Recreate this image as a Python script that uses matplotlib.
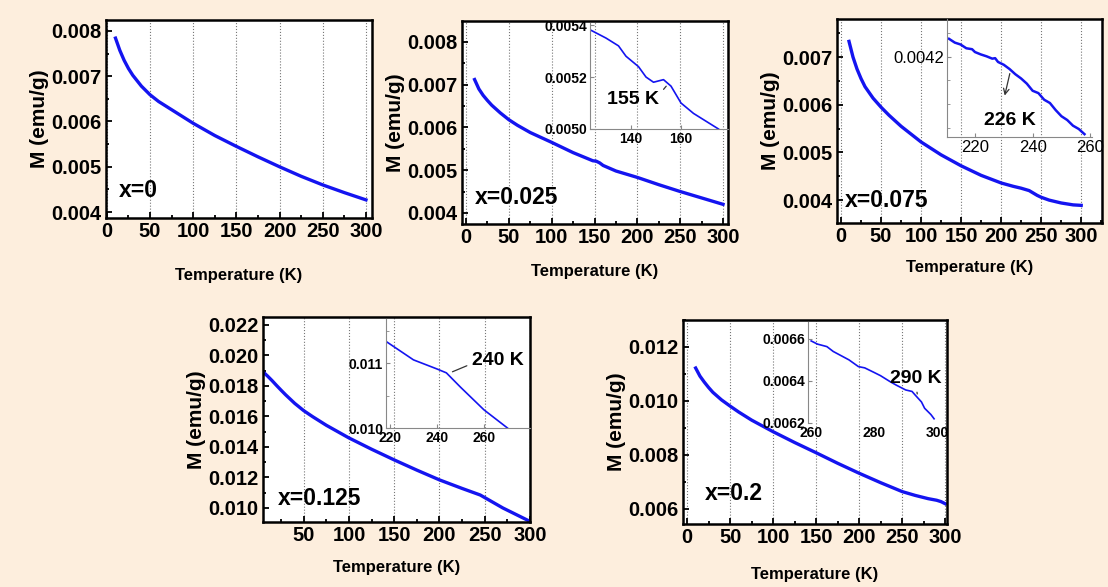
import numpy as np
import matplotlib.pyplot as plt
from matplotlib.ticker import MultipleLocator, FormatStrFormatter, FixedLocator

plt.rcParams['font.family'] = ['Liberation Sans', 'DejaVu Sans']
plt.rcParams['font.weight'] = 'bold'

W, H = 1108, 587
BG = '#fdeedd'
BLUE = '#1414f0'

# main curves: temperature (K) and magnetisation (emu/g)
T1 = [10, 15, 20, 25, 30, 40, 50, 60, 75, 100, 125, 150, 175, 200, 225, 250, 275, 300]
M1 = [0.00784, 0.00757, 0.00735, 0.00717, 0.00702, 0.00678, 0.00659, 0.00644, 0.00626,
      0.00596, 0.00569, 0.00545, 0.00522, 0.00500, 0.00479, 0.00460, 0.00443, 0.00427]

T2 = [10, 15, 20, 25, 30, 40, 50, 60, 75, 100, 125, 148, 152, 156, 160, 175, 200, 225,
      250, 275, 300]
M2 = [0.00712, 0.00690, 0.00675, 0.00663, 0.00652, 0.00634, 0.00618, 0.00605, 0.00588,
      0.00565, 0.00541, 0.00522, 0.00521, 0.00517, 0.00511, 0.00498, 0.00483, 0.00466,
      0.00450, 0.00435, 0.00420]

T3 = [10, 15, 20, 25, 30, 40, 50, 60, 75, 100, 125, 150, 175, 200, 215, 225, 235, 245,
      250, 260, 275, 290, 300]
M3 = [0.00733, 0.00700, 0.00675, 0.00655, 0.00638, 0.00614, 0.00595, 0.00578, 0.00555,
      0.00522, 0.00495, 0.00472, 0.00452, 0.00436, 0.00429, 0.00425, 0.00420, 0.00410,
      0.00406, 0.00400, 0.00394, 0.00390, 0.00389]

T4 = [6, 10, 15, 20, 25, 30, 40, 50, 60, 75, 100, 125, 150, 175, 200, 225, 245, 270, 300]
M4 = [0.01887, 0.01865, 0.01835, 0.01803, 0.01772, 0.01742, 0.01686, 0.01638, 0.01598,
      0.01542, 0.01459, 0.01385, 0.01315, 0.01248, 0.01184, 0.01128, 0.01085, 0.01000,
      0.00912]

T5 = [10, 15, 20, 25, 30, 40, 50, 60, 75, 100, 125, 150, 175, 200, 225, 250, 265, 280,
      290, 295, 300]
M5 = [0.01122, 0.01092, 0.01070, 0.01050, 0.01032, 0.01004, 0.00981, 0.00959, 0.00929,
      0.00886, 0.00846, 0.00808, 0.00769, 0.00732, 0.00697, 0.00664, 0.00650, 0.00638,
      0.00632, 0.00627, 0.00619]

# insets
Ti2 = [124, 130, 135, 138, 143, 146, 149, 153, 156, 160, 165, 170, 175]
Mi2 = [0.005380, 0.005350, 0.005320, 0.005280, 0.005240, 0.005200, 0.005180, 0.005190,
       0.005165, 0.005100, 0.005060, 0.005030, 0.005000]

Ti3 = [211, 213, 215, 217, 219, 220, 222, 224, 226, 227, 228, 230, 232, 234, 236, 238,
       240, 242, 244, 246, 248, 250, 252, 254, 256, 258]
Mi3 = [0.004238, 0.004230, 0.004226, 0.004218, 0.004216, 0.004210, 0.004205, 0.004201,
       0.004196, 0.004197, 0.004189, 0.004183, 0.004174, 0.004163, 0.004154, 0.004143,
       0.004128, 0.004123, 0.004109, 0.004102, 0.004087, 0.004074, 0.004066, 0.004054,
       0.004047, 0.004036]

Ti4 = [218.5, 230, 240, 244, 250, 260, 270]
Mi4 = [0.01133, 0.01105, 0.01091, 0.01085, 0.01063, 0.01028, 0.01000]

Ti5 = [260, 262, 265, 267, 270, 272, 275, 277, 280, 282, 285, 287, 290, 292, 293, 295,
       296, 297, 298, 299]
Mi5 = [0.006590, 0.006575, 0.006563, 0.006540, 0.006516, 0.006500, 0.006468, 0.006462,
       0.006440, 0.006425, 0.006397, 0.006380, 0.006357, 0.006350, 0.006333, 0.006300,
       0.006270, 0.006255, 0.006240, 0.006220]


def rect(l, t, r, b):
    return [l / W, 1 - b / H, (r - l) / W, (b - t) / H]


fig = plt.figure(figsize=(W / 100, H / 100), dpi=100)
fig.patch.set_facecolor(BG)


def main_panel(box, T, M, xlim, ylim, ymaj, ymin, label, lpos, xpad=14):
    ax = fig.add_axes(rect(*box))
    ax.plot(T, M, color=BLUE, lw=2.4)
    ax.set_xlim(*xlim)
    ax.set_ylim(*ylim)
    ax.xaxis.set_major_locator(MultipleLocator(50))
    ax.xaxis.set_minor_locator(MultipleLocator(25))
    ax.yaxis.set_major_locator(MultipleLocator(ymaj))
    ax.yaxis.set_minor_locator(MultipleLocator(ymin))
    ax.yaxis.set_major_formatter(FormatStrFormatter('%.3f'))
    ax.tick_params(which='both', direction='in', labelsize=14.5, width=1.3, pad=3)
    ax.tick_params(which='major', length=4)
    ax.tick_params(which='minor', length=2.5)
    for lab in ax.get_xticklabels() + ax.get_yticklabels():
        lab.set_fontweight('bold')
    for s in ax.spines.values():
        s.set_linewidth(1.8)
    ax.grid(axis='x', ls=':', color='#777777', lw=0.8)
    ax.set_xlabel('Temperature (K)', fontsize=12, fontweight='bold', labelpad=xpad)
    ax.set_ylabel('M (emu/g)', fontsize=15, fontweight='bold', labelpad=2)
    ax.text(lpos[0], lpos[1], label, transform=ax.transAxes, fontsize=16.5,
            fontweight='bold', ha='left', va='center')
    return ax


def inset(box, T, M, xlim, ylim, xt, yt, fmt, lw=1.2, size=10, weight='bold'):
    ax = fig.add_axes(rect(*box))
    ax.set_facecolor('none')
    ax.plot(T, M, color=BLUE, lw=lw)
    ax.set_xlim(*xlim)
    ax.set_ylim(*ylim)
    ax.xaxis.set_major_locator(FixedLocator(xt))
    ax.yaxis.set_major_locator(FixedLocator(yt))
    ax.yaxis.set_major_formatter(FormatStrFormatter(fmt))
    ax.tick_params(direction='in', length=3, labelsize=size, color='#888888', pad=2)
    for lab in ax.get_xticklabels() + ax.get_yticklabels():
        lab.set_fontweight(weight)
    ax.spines['top'].set_visible(False)
    ax.spines['right'].set_visible(False)
    ax.spines['left'].set_color('#888888')
    ax.spines['bottom'].set_color('#888888')
    return ax


main_panel((106, 20, 372, 218), T1, M1, (-1, 307), (0.00387, 0.00824),
           0.001, 0.0005, 'x=0', (0.05, 0.14), xpad=19)

main_panel((462, 21, 728, 224), T2, M2, (-4.7, 305.8), (0.00374, 0.00849),
           0.001, 0.0005, 'x=0.025', (0.05, 0.133), xpad=12)
a2 = inset((590, 23, 728, 129), Ti2, Mi2, (123.6, 178.8), (0.0050, 0.005408),
           [140, 160], [0.0050, 0.0052, 0.0054], '%.4f')
a2.annotate('155 K', xy=(154.8, 0.005173), xytext=(140.8, 0.005112),
            fontsize=14, fontweight='bold', ha='center', va='center',
            arrowprops=dict(arrowstyle='-', color='#333333', lw=0.9, relpos=(1.0, 0.8)))

main_panel((837, 19, 1102, 223), T3, M3, (-5, 326), (0.00352, 0.00780),
           0.001, 0.0005, 'x=0.075', (0.03, 0.11), xpad=10)
a3 = inset((947, 19, 1092, 137), Ti3, Mi3, (210.3, 260.6), (0.00403, 0.00428),
           [220, 240, 260], [0.0042], '%.4f', lw=1.8, size=12, weight='normal')
a3.yaxis.set_minor_locator(MultipleLocator(0.00005))
a3.tick_params(which='minor', direction='in', length=2, color='#888888')
a3.annotate('', xy=(230.1, 0.004112), xytext=(232.3, 0.004170),
            arrowprops=dict(arrowstyle='->', color='#333333', lw=0.9))
a3.text(232.0, 0.004066, '226 K', fontsize=14, fontweight='bold', ha='center', va='center')

main_panel((263, 317, 530, 522), T4, M4, (5, 300), (0.00908, 0.02252),
           0.002, 0.001, 'x=0.125', (0.056, 0.117), xpad=11)
a4 = inset((386, 319, 530, 428), Ti4, Mi4, (218.3, 279.6), (0.0100, 0.01168),
           [220, 240, 260], [0.010, 0.011], '%.3f')
a4.yaxis.set_minor_locator(MultipleLocator(0.0005))
a4.tick_params(which='minor', direction='in', length=2, color='#888888')
a4.annotate('240 K', xy=(245.5, 0.01085), xytext=(266, 0.011046),
            fontsize=14, fontweight='bold', ha='center', va='center',
            arrowprops=dict(arrowstyle='-', color='#333333', lw=0.9, relpos=(0.0, 0.3)))

main_panel((683, 320, 947, 524), T5, M5, (-4.7, 302), (0.00544, 0.0130),
           0.002, 0.001, 'x=0.2', (0.083, 0.15))
a5 = inset((808, 322, 947, 423), Ti5, Mi5, (259.0, 303.1), (0.0062, 0.00668),
           [260, 280, 300], [0.0062, 0.0064, 0.0066], '%.4f', size=10)
a5.spines['bottom'].set_visible(False)
a5.tick_params(axis='x', length=0)
a5.annotate('290 K', xy=(293.8, 0.006325), xytext=(293.3, 0.006413),
            fontsize=14, fontweight='bold', ha='center', va='center',
            arrowprops=dict(arrowstyle='-', color='#333333', lw=0.9, relpos=(0.5, 0.0)))

fig.savefig('out.png', dpi=100, facecolor=BG)
